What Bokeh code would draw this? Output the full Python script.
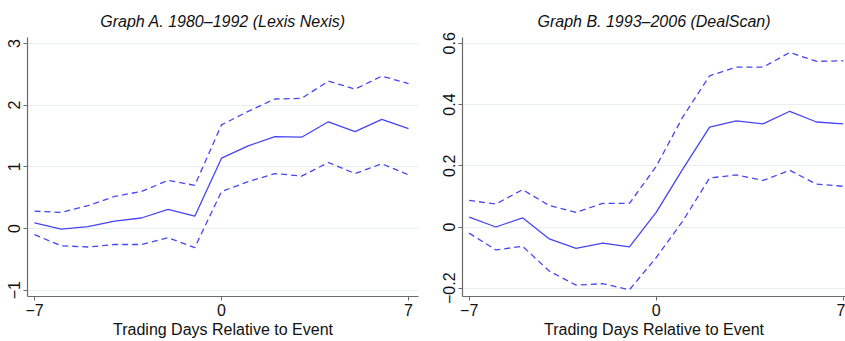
from bokeh.plotting import figure
from bokeh.layouts import row
from bokeh.models import Range1d, FixedTicker
from bokeh.embed import file_html
from bokeh.resources import INLINE

days = [-7, -6, -5, -4, -3, -2, -1, 0, 1, 2, 3, 4, 5, 6, 7]

# Graph A: 1980-1992 (Lexis Nexis)
a_est = [0.09, -0.01, 0.03, 0.12, 0.17, 0.31, 0.20, 1.14, 1.34, 1.49, 1.48, 1.73, 1.57, 1.77, 1.62]
a_hi = [0.28, 0.26, 0.37, 0.52, 0.60, 0.78, 0.70, 1.68, 1.90, 2.10, 2.11, 2.39, 2.26, 2.47, 2.35]
a_lo = [-0.10, -0.28, -0.30, -0.26, -0.26, -0.15, -0.31, 0.60, 0.76, 0.89, 0.85, 1.07, 0.89, 1.05, 0.87]

# Graph B: 1993-2006 (DealScan)
b_est = [0.032, 0.0, 0.030, -0.039, -0.070, -0.053, -0.065, 0.048, 0.190, 0.326, 0.347, 0.337, 0.378, 0.343, 0.337]
b_hi = [0.087, 0.075, 0.122, 0.070, 0.048, 0.077, 0.077, 0.198, 0.360, 0.494, 0.522, 0.522, 0.570, 0.541, 0.543]
b_lo = [-0.020, -0.075, -0.063, -0.144, -0.190, -0.185, -0.205, -0.100, 0.020, 0.160, 0.170, 0.152, 0.185, 0.140, 0.133]

x_ticks = [-7, 0, 7]
a_yticks = [-1, 0, 1, 2, 3]
b_yticks = [-0.2, 0, 0.2, 0.4, 0.6]

FONT = "Liberation Sans"
LINE = "#4646f4"
AXIS = "#6a6a6a"


def make(title, xr, yr, yticks, est, hi, lo, width, bl, br):
    p = figure(width=width, height=341, output_backend="svg", toolbar_location=None,
               x_range=Range1d(*xr), y_range=Range1d(*yr),
               min_border_left=bl, min_border_right=br, min_border_top=37, min_border_bottom=45)
    p.outline_line_color = None
    p.title.text = title
    p.title.text_font = FONT
    p.title.text_font_style = "italic"
    p.title.text_font_size = "16px"
    p.title.align = "center"
    p.title.text_color = "#111111"
    p.title.standoff = 16

    p.line(days, est, line_color=LINE, line_width=1.3)
    p.line(days, hi, line_color=LINE, line_width=1.3, line_dash="6 4")
    p.line(days, lo, line_color=LINE, line_width=1.3, line_dash="6 4")

    p.xaxis.ticker = FixedTicker(ticks=x_ticks)
    p.yaxis.ticker = FixedTicker(ticks=yticks)
    p.xaxis.major_label_overrides = {t: (str(t).replace("-", "\u2212")) for t in x_ticks}
    p.yaxis.major_label_overrides = {t: (("%g" % t).replace("-", "\u2212")) for t in yticks}
    for ax in (p.xaxis, p.yaxis):
        ax.axis_line_color = AXIS
        ax.axis_line_width = 1.2
        ax.major_tick_line_color = AXIS
        ax.major_tick_in = 0
        ax.major_tick_out = 4
        ax.minor_tick_line_color = None
        ax.major_label_text_font = FONT
        ax.major_label_text_font_size = "16px"
        ax.major_label_text_color = "#111111"
        ax.major_label_standoff = 3
    p.yaxis.major_label_orientation = "vertical"
    p.xaxis.axis_label = "Trading Days Relative to Event"
    p.xaxis.axis_label_text_font = FONT
    p.xaxis.axis_label_text_font_size = "16px"
    p.xaxis.axis_label_text_font_style = "normal"
    p.xaxis.axis_label_text_color = "#111111"
    p.xaxis.axis_label_standoff = 2
    p.xgrid.grid_line_color = None
    p.ygrid.grid_line_color = "#e6f0f0"
    p.ygrid.grid_line_width = 1
    return p


pa = make("Graph A. 1980\u20131992 (Lexis Nexis)", (-7.262, 7.374), (-1.103, 3.097), a_yticks,
          a_est, a_hi, a_lo, 440, 27, 22)
pb = make("Graph B. 1993\u20132006 (DealScan)", (-7.249, 7.086), (-0.227, 0.619), b_yticks,
          b_est, b_hi, b_lo, 405, 20, 0)

layout = row(pa, pb)
open("out.html", "w").write(file_html(layout, INLINE))
